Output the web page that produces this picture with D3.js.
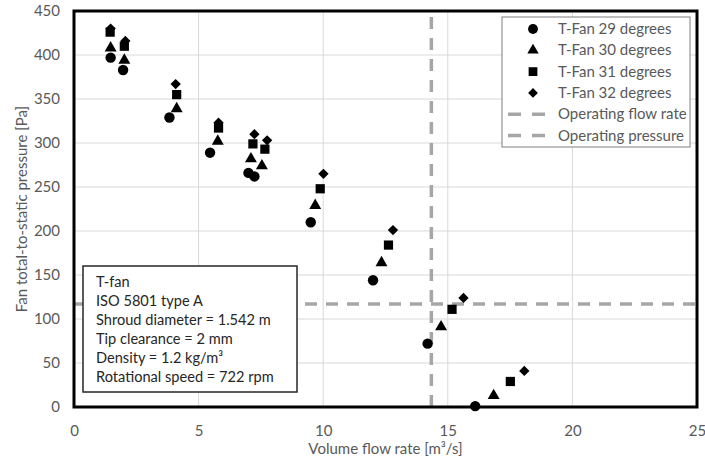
<!DOCTYPE html>
<html>
<head>
<meta charset="utf-8">
<script src="https://cdn.jsdelivr.net/npm/d3@7"></script>
<style>
  body { margin: 0; background: #fff; }
  text { font-family: Lato, "Liberation Sans", sans-serif; }
</style>
</head>
<body>
<div id="chart"></div>
<script>
// data
const seriesNames = ["T-Fan 29 degrees", "T-Fan 30 degrees", "T-Fan 31 degrees", "T-Fan 32 degrees"];
const flow29 = [1.47, 1.97, 3.83, 5.46, 7.0, 7.24, 9.5, 12.0, 14.19, 16.1];
const pres29 = [397, 383, 329, 289, 266, 262, 210, 144, 72, 1];
const flow30 = [1.47, 2.02, 4.12, 5.77, 7.1, 7.54, 9.68, 12.34, 14.73, 16.84];
const pres30 = [408, 394, 339, 302, 282, 274, 229, 164, 91, 13];
const flow31 = [1.45, 2.02, 4.12, 5.8, 7.18, 7.66, 9.88, 12.62, 15.17, 17.51];
const pres31 = [426, 410, 355, 317, 299, 293, 248, 184, 111, 29];
const flow32 = [1.47, 2.06, 4.08, 5.8, 7.24, 7.75, 10.01, 12.8, 15.63, 18.07];
const pres32 = [430, 416, 367, 323, 310, 303, 265, 201, 124, 41];
const operatingFlow = 14.34;
const operatingPressure = 117;
const xTicks = [0, 5, 10, 15, 20, 25];
const yTicks = [0, 50, 100, 150, 200, 250, 300, 350, 400, 450];
const noteLines = ["T-fan", "ISO 5801 type A", "Shroud diameter = 1.542 m", "Tip clearance = 2 mm", "Density = 1.2 kg/m\u00B3", "Rotational speed = 722 rpm"];

const W = 705, H = 465;
const margin = { top: 11, right: 8, bottom: 58, left: 74 };
const width = W - margin.left - margin.right;
const height = H - margin.top - margin.bottom;

const series = [
  { name: seriesNames[0], shape: d3.symbolCircle, size: 85, pts: flow29.map((x, i) => [x, pres29[i]]) },
  { name: seriesNames[1], shape: d3.symbolTriangle, size: 62, pts: flow30.map((x, i) => [x, pres30[i]]) },
  { name: seriesNames[2], shape: d3.symbolSquare, size: 85, pts: flow31.map((x, i) => [x, pres31[i]]) },
  { name: seriesNames[3], shape: d3.symbolDiamond2, size: 68, pts: flow32.map((x, i) => [x, pres32[i]]) },
];

const svg = d3.select("#chart").append("svg").attr("width", W).attr("height", H);
const g = svg.append("g").attr("transform", `translate(${margin.left},${margin.top})`);

const x = d3.scaleLinear().domain([0, 25]).range([0, width]);
const y = d3.scaleLinear().domain([0, 450]).range([height, 0]);

// gridlines
g.append("g").selectAll("line").data(yTicks.slice(1, -1)).join("line")
  .attr("x1", 0).attr("x2", width)
  .attr("y1", d => y(d)).attr("y2", d => y(d))
  .attr("stroke", "#d9d9d9").attr("stroke-width", 1);
g.append("g").selectAll("line").data(xTicks.slice(1, -1)).join("line")
  .attr("y1", 0).attr("y2", height)
  .attr("x1", d => x(d)).attr("x2", d => x(d))
  .attr("stroke", "#d9d9d9").attr("stroke-width", 1);

// axes (labels only)
const xAxis = g.append("g").attr("transform", `translate(0,${height})`)
  .call(d3.axisBottom(x).tickValues(xTicks).tickSize(0).tickPadding(18));
const yAxis = g.append("g")
  .call(d3.axisLeft(y).tickValues(yTicks).tickSize(0).tickPadding(14));
[xAxis, yAxis].forEach(a => {
  a.select(".domain").remove();
  a.selectAll("text").attr("fill", "#595959").style("font-size", "15px").style("font-family", "Lato, sans-serif");
});

// operating lines
const dashStyle = { stroke: "#a6a6a6", width: 3.5, dash: "12,9" };
g.append("line")
  .attr("x1", x(operatingFlow)).attr("x2", x(operatingFlow))
  .attr("y1", y(0)).attr("y2", y(450))
  .attr("stroke", dashStyle.stroke).attr("stroke-width", dashStyle.width).attr("stroke-dasharray", dashStyle.dash);
g.append("line")
  .attr("x1", 0).attr("x2", width)
  .attr("y1", y(operatingPressure)).attr("y2", y(operatingPressure))
  .attr("stroke", dashStyle.stroke).attr("stroke-width", dashStyle.width).attr("stroke-dasharray", dashStyle.dash);

// markers
series.forEach(s => {
  g.append("g").selectAll("path").data(s.pts).join("path")
    .attr("transform", d => `translate(${x(d[0])},${y(d[1])})`)
    .attr("d", d3.symbol().type(s.shape).size(s.size))
    .attr("fill", "#000");
});

// frame
g.append("rect").attr("x", 0).attr("y", 0).attr("width", width).attr("height", height)
  .attr("fill", "none").attr("stroke", "#000").attr("stroke-width", 3);

// legend
const lg = svg.append("g").attr("transform", "translate(502,17)");
lg.append("rect").attr("width", 188).attr("height", 130).attr("fill", "#fff")
  .attr("stroke", "#7f7f7f").attr("stroke-width", 1);
const legendItems = series.map(s => ({ name: s.name, shape: s.shape, size: s.size }))
  .concat([{ name: "Operating flow rate" }, { name: "Operating pressure" }]);
const li = lg.selectAll("g.item").data(legendItems).join("g")
  .attr("class", "item")
  .attr("transform", (d, i) => `translate(0,${12 + i * 21.3})`);
li.filter(d => d.shape).append("path")
  .attr("transform", "translate(31,0)")
  .attr("d", d => d3.symbol().type(d.shape).size(d.size * 0.9)())
  .attr("fill", "#000");
li.filter(d => !d.shape).append("line")
  .attr("x1", 6).attr("x2", 44).attr("y1", 0).attr("y2", 0)
  .attr("stroke", dashStyle.stroke).attr("stroke-width", dashStyle.width).attr("stroke-dasharray", "13,11");
li.append("text").attr("x", 56).attr("y", 5)
  .attr("fill", "#595959").style("font-size", "15px").text(d => d.name);

// annotation box
const nb = svg.append("g").attr("transform", "translate(83,266)");
nb.append("rect").attr("width", 214).attr("height", 126).attr("fill", "#fff")
  .attr("stroke", "#262626").attr("stroke-width", 1.5);
const nt = nb.append("text").attr("fill", "#262626").style("font-size", "14.6px");
noteLines.forEach((t, i) => {
  nt.append("tspan").attr("x", 13).attr("y", 21 + i * 19).text(t);
});

// axis titles
svg.append("text").attr("x", margin.left + width / 2).attr("y", 454)
  .attr("text-anchor", "middle").attr("fill", "#595959").style("font-size", "15px")
  .text("Volume flow rate [m\u00B3/s]");
svg.append("text").attr("transform", `translate(27,${margin.top + height / 2}) rotate(-90)`)
  .attr("text-anchor", "middle").attr("fill", "#595959").style("font-size", "15px")
  .text("Fan total-to-static pressure [Pa]");
</script>
</body>
</html>
